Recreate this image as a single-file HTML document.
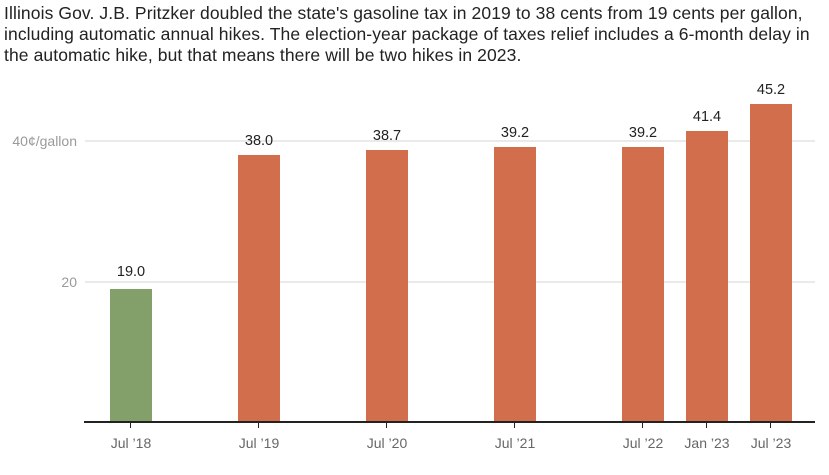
<!DOCTYPE html>
<html><head><meta charset="utf-8"><style>
body{margin:0;background:#fff;width:829px;height:475px;overflow:hidden;font-family:"Liberation Sans",sans-serif}
.t{position:absolute;left:4px;top:3px;font-size:17.5px;line-height:21px;color:#222;white-space:nowrap;letter-spacing:0.1px}
</style></head><body>
<div class="t">Illinois Gov. J.B. Pritzker doubled the state's gasoline tax in 2019 to 38 cents from 19 cents per gallon,<br>including automatic annual hikes. The election-year package of taxes relief includes a 6-month delay in<br>the automatic hike, but that means there will be two hikes in 2023.</div>
<svg width="829" height="475" style="position:absolute;left:0;top:0" font-family="Liberation Sans, sans-serif">
<line x1="85" x2="815" y1="141" y2="141" stroke="#e3e3e3" stroke-width="1.5"/>
<line x1="85" x2="815" y1="282" y2="282" stroke="#e3e3e3" stroke-width="1.5"/>
<text x="77" y="146" text-anchor="end" font-size="14" fill="#9a9a9a">40¢/gallon</text>
<text x="77" y="287" text-anchor="end" font-size="14" fill="#9a9a9a">20</text>
<g font-size="14.5" fill="#222" text-anchor="middle">
<rect x="110" y="289" width="42" height="134" fill="#84a06a"/><text x="131" y="276">19.0</text>
<rect x="238" y="155" width="42" height="268" fill="#d36e4c"/><text x="259" y="145">38.0</text>
<rect x="366" y="150" width="42" height="273" fill="#d36e4c"/><text x="387" y="140">38.7</text>
<rect x="494" y="147" width="42" height="276" fill="#d36e4c"/><text x="515" y="137">39.2</text>
<rect x="622" y="147" width="42" height="276" fill="#d36e4c"/><text x="643" y="137">39.2</text>
<rect x="686" y="131" width="42" height="292" fill="#d36e4c"/><text x="707" y="121">41.4</text>
<rect x="750" y="104" width="42" height="319" fill="#d36e4c"/><text x="771" y="94">45.2</text>
</g>
<line x1="84" x2="815" y1="422" y2="422" stroke="#222" stroke-width="2"/>
<g stroke="#222" stroke-width="1">
<line x1="130.5" x2="130.5" y1="422" y2="428"/><line x1="258.5" x2="258.5" y1="422" y2="428"/>
<line x1="386.5" x2="386.5" y1="422" y2="428"/><line x1="514.5" x2="514.5" y1="422" y2="428"/>
<line x1="642.5" x2="642.5" y1="422" y2="428"/><line x1="706.5" x2="706.5" y1="422" y2="428"/>
<line x1="770.5" x2="770.5" y1="422" y2="428"/>
</g>
<g font-size="14" fill="#666" text-anchor="middle">
<text x="131" y="448">Jul ’18</text><text x="259" y="448">Jul ’19</text><text x="387" y="448">Jul ’20</text>
<text x="515" y="448">Jul ’21</text><text x="643" y="448">Jul ’22</text><text x="707" y="448">Jan ’23</text>
<text x="771" y="448">Jul ’23</text>
</g>
</svg>
</body></html>
